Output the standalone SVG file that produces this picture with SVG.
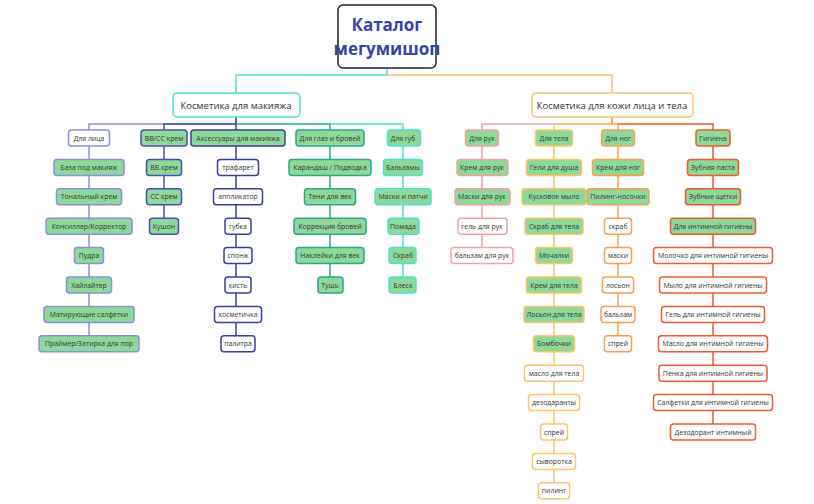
<svg xmlns="http://www.w3.org/2000/svg" width="814" height="504" viewBox="0 0 814 504">
<style>
text{font-family:"Open Sans","Liberation Sans",sans-serif;font-size:6.9px;fill:#333;text-anchor:middle;dominant-baseline:central}
rect{stroke-width:1.5}
.g{fill:#8ed99a}.w{fill:#fff}
.c1 rect{stroke:#8a90dc}.c2 rect{stroke:#4a52b0}.c3 rect{stroke:#3a3f9e}.c4 rect{stroke:#2aa88e}.c5 rect{stroke:#4fe0cf}
.c6 rect{stroke:#f4a0a6}.c7 rect{stroke:#fbc46a}.c8 rect{stroke:#f7a052}.c9 rect{stroke:#f05a2c}
.l{fill:none;stroke-width:1.5}
.t{font-size:17px;font-weight:bold;fill:#3545a8}
.h{font-size:9.5px}
</style>
<g id="connectors">
<path class="l" stroke="#4fe0cf" d="M387 68V75H236V93"/>
<path class="l" stroke="#fbc46a" d="M387 75H612V93"/>
<path class="l" stroke="#8a90dc" d="M236 117V124H89V343.8"/>
<path class="l" stroke="#4a52b0" d="M236 124H164V226.2"/>
<path class="l" stroke="#3a3f9e" d="M236 117V343.8"/>
<path class="l" stroke="#2aa88e" d="M236 124H330V285"/>
<path class="l" stroke="#4fe0cf" d="M330 124H403V285"/>
<path class="l" stroke="#f4a0a6" d="M612 117V124H482V255.6"/>
<path class="l" stroke="#fbc46a" d="M612 124H554V490.8"/>
<path class="l" stroke="#f7a052" d="M612 117V124H618V343.8"/>
<path class="l" stroke="#f05a2c" d="M618 124H713V432"/>
</g>
<g id="title"><rect x="338" y="5" width="98" height="63" rx="5" fill="#fff" stroke="#222" stroke-width="1.5"/><text class="t" x="387" y="24">Каталог</text><text class="t" x="387" y="48">мегумишоп</text></g>
<g id="makeup"><rect x="173" y="93" width="127" height="24" rx="4" fill="#fff" stroke="#4fe0cf"/><text class="h" x="236" y="105">Косметика для макияжа</text></g>
<g id="skin"><rect x="532" y="93" width="161" height="24" rx="4" fill="#fff" stroke="#fbc46a"/><text class="h" x="612" y="105">Косметика для кожи лица и тела</text></g>
<g id="face" class="c1">
<rect class="w" x="68.5" y="130" width="41" height="16" rx="3"/><text x="89" y="138">Для лица</text>
<rect class="g" x="54" y="159.4" width="70" height="16" rx="3"/><text x="89" y="167.4">База под макияж</text>
<rect class="g" x="56.5" y="188.8" width="65" height="16" rx="3"/><text x="89" y="196.8">Тональный крем</text>
<rect class="g" x="46" y="218.2" width="86" height="16" rx="3"/><text x="89" y="226.2">Консиллер/Корректор</text>
<rect class="g" x="74.5" y="247.6" width="29" height="16" rx="3"/><text x="89" y="255.6">Пудра</text>
<rect class="g" x="66.5" y="277" width="45" height="16" rx="3"/><text x="89" y="285">Хайлайтер</text>
<rect class="g" x="44" y="306.4" width="90" height="16" rx="3"/><text x="89" y="314.4">Матирующие салфетки</text>
<rect class="g" x="39" y="335.8" width="100" height="16" rx="3"/><text x="89" y="343.8">Праймер/Затирка для пор</text>
</g>
<g id="bbcc" class="c2">
<rect class="g" x="141" y="130" width="46" height="16" rx="3"/><text x="164" y="138">ВВ/СС крем</text>
<rect class="g" x="146.5" y="159.4" width="35" height="16" rx="3"/><text x="164" y="167.4">ВВ крем</text>
<rect class="g" x="146.5" y="188.8" width="35" height="16" rx="3"/><text x="164" y="196.8">СС крем</text>
<rect class="g" x="149.5" y="218.2" width="29" height="16" rx="3"/><text x="164" y="226.2">Кушон</text>
</g>
<g id="acc" class="c3">
<rect class="g" x="191" y="130" width="94" height="16" rx="3"/><text x="238" y="138">Аксессуары для макияжа</text>
<rect class="w" x="217.5" y="159.4" width="41" height="16" rx="3"/><text x="238" y="167.4">трафарет</text>
<rect class="w" x="213.5" y="188.8" width="49" height="16" rx="3"/><text x="238" y="196.8">аппликатор</text>
<rect class="w" x="225" y="218.2" width="26" height="16" rx="3"/><text x="238" y="226.2">губка</text>
<rect class="w" x="224" y="247.6" width="28" height="16" rx="3"/><text x="238" y="255.6">спонж</text>
<rect class="w" x="225" y="277" width="26" height="16" rx="3"/><text x="238" y="285">кисть</text>
<rect class="w" x="214.5" y="306.4" width="47" height="16" rx="3"/><text x="238" y="314.4">косметичка</text>
<rect class="w" x="221" y="335.8" width="34" height="16" rx="3"/><text x="238" y="343.8">палитра</text>
</g>
<g id="eyes" class="c4">
<rect class="g" x="296" y="130" width="68" height="16" rx="3"/><text x="330" y="138">Для глаз и бровей</text>
<rect class="g" x="289" y="159.4" width="82" height="16" rx="3"/><text x="330" y="167.4">Карандаш / Подводка</text>
<rect class="g" x="304.5" y="188.8" width="51" height="16" rx="3"/><text x="330" y="196.8">Тени для век</text>
<rect class="g" x="294" y="218.2" width="72" height="16" rx="3"/><text x="330" y="226.2">Коррекция бровей</text>
<rect class="g" x="296" y="247.6" width="68" height="16" rx="3"/><text x="330" y="255.6">Наклейки для век</text>
<rect class="g" x="318" y="277" width="25" height="16" rx="3"/><text x="330" y="285">Тушь</text>
</g>
<g id="lips" class="c5">
<rect class="g" x="387.5" y="130" width="33" height="16" rx="3"/><text x="403" y="138">Для губ</text>
<rect class="g" x="383.5" y="159.4" width="39" height="16" rx="3"/><text x="403" y="167.4">Бальзамы</text>
<rect class="g" x="375" y="188.8" width="56" height="16" rx="3"/><text x="403" y="196.8">Маски и патчи</text>
<rect class="g" x="388" y="218.2" width="31" height="16" rx="3"/><text x="403" y="226.2">Помада</text>
<rect class="g" x="389" y="247.6" width="27" height="16" rx="3"/><text x="403" y="255.6">Скраб</text>
<rect class="g" x="389" y="277" width="27" height="16" rx="3"/><text x="403" y="285">Блеск</text>
</g>
<g id="hands" class="c6">
<rect class="g" x="465.5" y="130" width="33" height="16" rx="3"/><text x="482" y="138">Для рук</text>
<rect class="g" x="457" y="159.4" width="51" height="16" rx="3"/><text x="482" y="167.4">Крем для рук</text>
<rect class="g" x="455" y="188.8" width="55" height="16" rx="3"/><text x="482" y="196.8">Маски для рук</text>
<rect class="w" x="458" y="218.2" width="49" height="16" rx="3"/><text x="482" y="226.2">гель для рук</text>
<rect class="w" x="451" y="247.6" width="62" height="16" rx="3"/><text x="482" y="255.6">бальзам для рук</text>
</g>
<g id="body" class="c7">
<rect class="g" x="535.5" y="130" width="37" height="16" rx="3"/><text x="554" y="138">Для тела</text>
<rect class="g" x="526.5" y="159.4" width="55" height="16" rx="3"/><text x="554" y="167.4">Гели для душа</text>
<rect class="g" x="522" y="188.8" width="64" height="16" rx="3"/><text x="554" y="196.8">Кусковое мыло</text>
<rect class="g" x="525" y="218.2" width="58" height="16" rx="3"/><text x="554" y="226.2">Скраб для тела</text>
<rect class="g" x="535.5" y="247.6" width="37" height="16" rx="3"/><text x="554" y="255.6">Мочалки</text>
<rect class="g" x="526.5" y="277" width="55" height="16" rx="3"/><text x="554" y="285">Крем для тела</text>
<rect class="g" x="524" y="306.4" width="60" height="16" rx="3"/><text x="554" y="314.4">Лосьон для тела</text>
<rect class="g" x="533.5" y="335.8" width="41" height="16" rx="3"/><text x="554" y="343.8">Бомбочки</text>
<rect class="w" x="524.5" y="365.2" width="59" height="16" rx="3"/><text x="554" y="373.2">масло для тела</text>
<rect class="w" x="528.5" y="394.6" width="51" height="16" rx="3"/><text x="554" y="402.6">дезодаранты</text>
<rect class="w" x="540.5" y="424" width="27" height="16" rx="3"/><text x="554" y="432">спрей</text>
<rect class="w" x="532.5" y="453.4" width="43" height="16" rx="3"/><text x="554" y="461.4">сыворотка</text>
<rect class="w" x="538.5" y="482.8" width="31" height="16" rx="3"/><text x="554" y="490.8">пилинг</text>
</g>
<g id="feet" class="c8">
<rect class="g" x="601.5" y="130" width="33" height="16" rx="3"/><text x="618" y="138">Для ног</text>
<rect class="g" x="592.5" y="159.4" width="51" height="16" rx="3"/><text x="618" y="167.4">Крем для ног</text>
<rect class="g" x="587" y="188.8" width="62" height="16" rx="3"/><text x="618" y="196.8">Пилинг-носочки</text>
<rect class="w" x="604.5" y="218.2" width="27" height="16" rx="3"/><text x="618" y="226.2">скраб</text>
<rect class="w" x="604.5" y="247.6" width="27" height="16" rx="3"/><text x="618" y="255.6">маски</text>
<rect class="w" x="602.5" y="277" width="31" height="16" rx="3"/><text x="618" y="285">лосьон</text>
<rect class="w" x="601" y="306.4" width="34" height="16" rx="3"/><text x="618" y="314.4">бальзам</text>
<rect class="w" x="604.5" y="335.8" width="27" height="16" rx="3"/><text x="618" y="343.8">спрей</text>
</g>
<g id="hygiene" class="c9">
<rect class="g" x="696" y="130" width="34" height="16" rx="3"/><text x="713" y="138">Гигиена</text>
<rect class="g" x="687.5" y="159.4" width="51" height="16" rx="3"/><text x="713" y="167.4">Зубная паста</text>
<rect class="g" x="685.5" y="188.8" width="55" height="16" rx="3"/><text x="713" y="196.8">Зубные щетки</text>
<rect class="g" x="670.5" y="218.2" width="85" height="16" rx="3"/><text x="713" y="226.2">Для интимной гигиены</text>
<rect class="w" x="653.5" y="247.6" width="119" height="16" rx="3"/><text x="713" y="255.6">Молочко для интимной гигиены</text>
<rect class="w" x="659.5" y="277" width="107" height="16" rx="3"/><text x="713" y="285">Мыло для интимной гигиены</text>
<rect class="w" x="661.5" y="306.4" width="103" height="16" rx="3"/><text x="713" y="314.4">Гель для интимной гигиены</text>
<rect class="w" x="658.5" y="335.8" width="109" height="16" rx="3"/><text x="713" y="343.8">Масло для интимной гигиены</text>
<rect class="w" x="659" y="365.2" width="108" height="16" rx="3"/><text x="713" y="373.2">Пенка для интимной гигиены</text>
<rect class="w" x="653.5" y="394.6" width="119" height="16" rx="3"/><text x="713" y="402.6">Салфетки для интимной гигиены</text>
<rect class="w" x="670.5" y="424" width="85" height="16" rx="3"/><text x="713" y="432">Дезодорант интимный</text>
</g>
</svg>
